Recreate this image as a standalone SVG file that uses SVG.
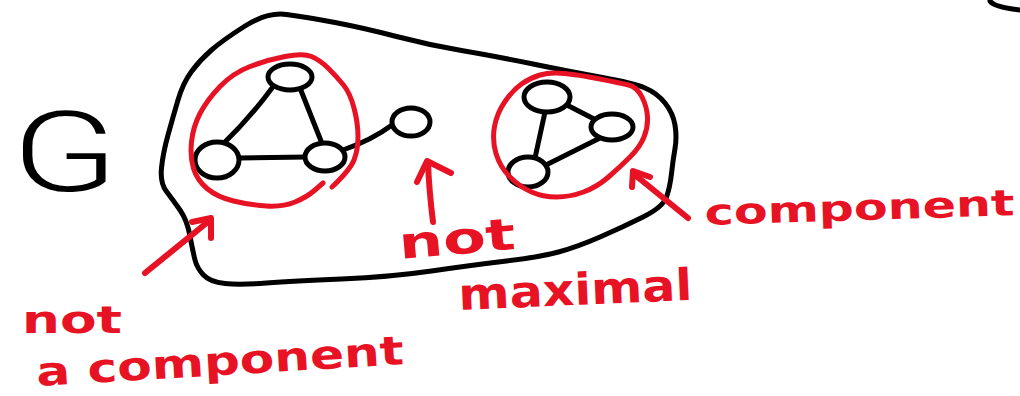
<svg xmlns="http://www.w3.org/2000/svg" width="1020" height="396" viewBox="0 0 1020 396">
<style>
.ink{fill:none;stroke:#000;stroke-width:5;stroke-linecap:round;stroke-linejoin:round}
.node{fill:#fff;stroke:#000;stroke-width:5}
.red{fill:none;stroke:#e71224;stroke-width:5;stroke-linecap:round;stroke-linejoin:round}
.arrow{fill:none;stroke:#e71224;stroke-width:6;stroke-linecap:round;stroke-linejoin:round}
.lbl{fill:#e71224;font-family:"DejaVu Sans","Liberation Sans",sans-serif;font-weight:bold}
.g{fill:#000;font-family:Roboto,Lato,"Liberation Sans",sans-serif;font-weight:300}
</style>
<rect width="1020" height="396" fill="#fff"/>
<g id="graph-G">
<path class="ink" d="M286.5,14.5 Q306,17 335,22.5 Q364,28 396.5,36.5 Q429,45 461.5,50.5 Q494,56 533,64 Q572,72 602.5,77.5 Q633,83 645,88 Q657,93 665,103 Q673,113 675,125 Q677,137 675,148.5 Q673,160 671.5,173.5 Q670,187 666.5,197 Q663,207 643,217 Q623,227 600,237 Q577,247 558.5,252 Q540,257 506.5,261 Q473,265 431.5,271 Q390,277 341.5,279 Q293,281 266.5,283 Q240,285 225,283.5 Q210,282 203.5,275 Q197,268 195,260 Q193,252 190,236 Q187,220 180,210 Q173,200 166.5,191.5 Q160,183 161.5,168 Q163,153 168,135 Q173,117 178,100 Q183,83 191.5,71.5 Q200,60 211.5,50 Q223,40 245,26 Q267,12 286.5,14.5"/>
<text class="g" x="12" y="191" font-size="112" textLength="106" lengthAdjust="spacingAndGlyphs">G</text>
</g>
<g id="fragment">
<path class="ink" d="M990,1 Q994,7 1020,10"/>
</g>
<g id="connectors">
<path class="ink" d="M272,88 Q250,118 222,145"/>
<path class="ink" d="M300,88 L323,146"/>
<path class="ink" d="M239,158 L307,157"/>
<path class="ink" d="M343,150 Q372,140 392,125"/>
<path class="ink" d="M565,104 L596,120"/>
<path class="ink" d="M545,112 L535,158"/>
<path class="ink" d="M600,138 L544,166"/>
</g>
<g id="node-a"><ellipse class="node" cx="290" cy="77" rx="22" ry="13"/></g>
<g id="node-b"><ellipse class="node" cx="217" cy="160" rx="22" ry="18"/></g>
<g id="node-c"><ellipse class="node" cx="325" cy="157" rx="20" ry="14"/></g>
<g id="node-d"><ellipse class="node" cx="411" cy="122" rx="19" ry="14"/></g>
<g id="node-e"><ellipse class="node" cx="547" cy="97" rx="23" ry="15"/></g>
<g id="node-f"><ellipse class="node" cx="612" cy="127" rx="21" ry="13"/></g>
<g id="node-g"><ellipse class="node" cx="528" cy="172" rx="20" ry="15"/></g>
<g id="circle-left">
<path class="red" d="M332,187 Q350,170 354,160 Q358,150 358,136.5 Q358,123 354,108 Q350,93 343.5,85 Q337,77 328.5,68.5 Q320,60 311.5,56.5 Q303,53 285,56.5 Q267,60 250,66.5 Q233,73 220,86.5 Q207,100 200,113.5 Q193,127 191.5,142 Q190,157 193.5,168.5 Q197,180 207,188.5 Q217,197 233.5,201 Q250,205 266.5,206 Q283,207 295,202 Q307,197 315,190 L323,183"/>
</g>
<g id="circle-right">
<path class="red" d="M565,73.5 Q580,75 600,79 Q620,83 628.5,85 Q637,87 642,97 Q647,107 647.5,117 Q648,127 644,137 Q640,147 630,157 Q620,167 608.5,177 Q597,187 583.5,192 Q570,197 556.5,197 Q543,197 531.5,192 Q520,187 510,177 Q500,167 496,153.5 Q492,140 494.5,126.5 Q497,113 505,101.5 Q513,90 521.5,84 Q530,78 540,75 Q550,72 565,73.5"/>
</g>
<g id="annotation-left">
<path class="arrow" d="M145,273 L209,221"/>
<path class="arrow" d="M192,222 L211,218 L211,238"/>
<text class="lbl" x="22" y="333" font-size="38" textLength="100" lengthAdjust="spacingAndGlyphs">not</text>
<text class="lbl" x="37" y="386" font-size="40" textLength="368" lengthAdjust="spacingAndGlyphs" transform="rotate(-3.4 37 386)">a component</text>
</g>
<g id="annotation-middle">
<path class="arrow" d="M433,222 Q429,190 428,162"/>
<path class="arrow" d="M417,182 L427,161 L451,173"/>
<text class="lbl" x="400" y="259" font-size="44" textLength="117" lengthAdjust="spacingAndGlyphs" transform="rotate(-5 400 259)">not</text>
<text class="lbl" x="459" y="310" font-size="44" textLength="234" lengthAdjust="spacingAndGlyphs" transform="rotate(-2.5 459 310)">maximal</text>
</g>
<g id="annotation-right">
<path class="arrow" d="M688,218 L635,175"/>
<path class="arrow" d="M632,187 L633,171 L650,177"/>
<text class="lbl" x="705" y="225" font-size="36" textLength="310" lengthAdjust="spacingAndGlyphs" transform="rotate(-1.8 705 225)">component</text>
</g>
</svg>
